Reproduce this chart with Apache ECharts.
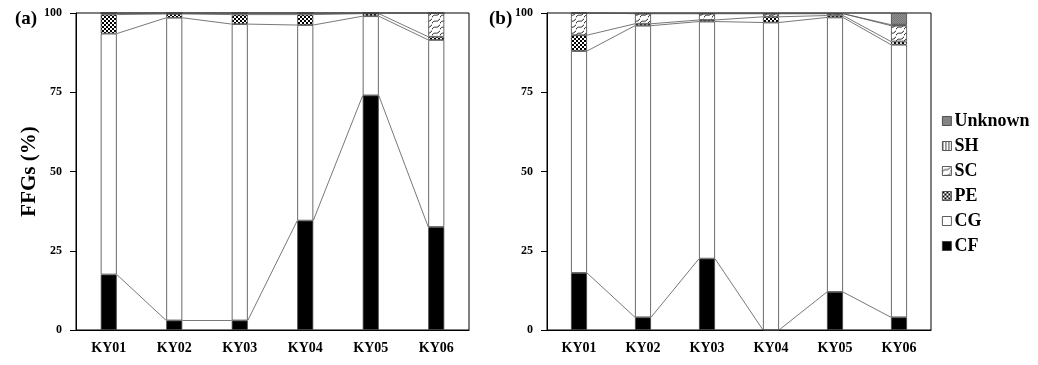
<!DOCTYPE html>
<html>
<head>
<meta charset="utf-8">
<script src="https://cdn.jsdelivr.net/npm/echarts@6/dist/echarts.min.js"></script>
<style>html,body{margin:0;padding:0;background:#fff;}#c{width:1038px;height:365px;}</style>
</head>
<body>
<div id="c"></div>
<script>
// ---- data ----
var categories = ['KY01', 'KY02', 'KY03', 'KY04', 'KY05', 'KY06'];
var seriesNames = ['CF', 'CG', 'PE', 'SC', 'SH', 'Unknown'];
var yTicks = [0, 25, 50, 75, 100];

// panel (a)
var CF_a = [17.5, 3, 3, 34.5, 74, 32.5];
var CG_a = [76, 95.5, 93.5, 61.7, 25, 59];
var PE_a = [6, 1.2, 3, 3.3, 0.8, 1];
var SC_a = [0.5, 0.3, 0.5, 0.5, 0.2, 7.5];
var SH_a = [0, 0, 0, 0, 0, 0];
var UN_a = [0, 0, 0, 0, 0, 0];

// panel (b)
var CF_b = [18, 4, 22.5, 0, 12, 4];
var CG_b = [70, 92, 74.8, 97, 86.6, 86];
var PE_b = [5, 0.6, 0.5, 1.8, 0.6, 1];
var SC_b = [7, 3.2, 2, 1, 0.6, 5];
var SH_b = [0, 0, 0, 0, 0, 0.3];
var UN_b = [0, 0.2, 0.2, 0.2, 0.2, 3.7];

// ---- patterns ----
function mk(w, h, draw) {
  var c = document.createElement('canvas');
  c.width = w; c.height = h;
  var g = c.getContext('2d');
  g.fillStyle = '#fff'; g.fillRect(0, 0, w, h);
  draw(g);
  return { image: c, repeat: 'repeat' };
}
var fills = {
  CF: '#000',
  CG: '#fff',
  PE: mk(4, 4, function (g) { g.fillStyle = '#000'; g.fillRect(0, 0, 2, 2); g.fillRect(2, 2, 2, 2); }),
  SC: mk(8, 6, function (g) { g.strokeStyle = '#222'; g.lineWidth = 1; g.beginPath(); g.moveTo(0, 5.5); g.bezierCurveTo(2, 0.5, 5, 6, 8, 0.5); g.stroke(); }),
  SH: mk(3, 3, function (g) { g.fillStyle = '#444'; g.fillRect(0, 0, 1, 3); }),
  Unknown: mk(2, 2, function (g) { g.fillStyle = '#8f8f8f'; g.fillRect(0, 0, 2, 2); g.fillStyle = '#777'; g.fillRect(0, 0, 1, 1); g.fillRect(1, 1, 1, 1); })
};

var panels = [
  { data: [CF_a, CG_a, PE_a, SC_a, SH_a, UN_a], stack: 'a' },
  { data: [CF_b, CG_b, PE_b, SC_b, SH_b, UN_b], stack: 'b' }
];

var FONT = 'Liberation Serif';
var BARW = 16;

var grids = [
  { left: 76, top: 13, width: 393, height: 317, show: true, borderColor: '#000', borderWidth: 1, backgroundColor: 'transparent' },
  { left: 547, top: 13, width: 384, height: 317, show: true, borderColor: '#000', borderWidth: 1, backgroundColor: 'transparent' }
];

var xAxes = [], yAxes = [], series = [];
panels.forEach(function (p, gi) {
  xAxes.push({
    type: 'category', gridIndex: gi, data: categories,
    axisLine: { lineStyle: { color: '#000', width: 1 } },
    axisTick: { show: false },
    axisLabel: { color: '#000', fontFamily: FONT, fontWeight: 'bold', fontSize: 14, margin: 11 }
  });
  yAxes.push({
    type: 'value', gridIndex: gi, min: 0, max: 100, interval: 25,
    name: gi === 0 ? 'FFGs (%)' : '',
    nameLocation: 'middle', nameGap: 34,
    nameTextStyle: { color: '#000', fontFamily: FONT, fontWeight: 'bold', fontSize: 21 },
    axisLine: { show: true, lineStyle: { color: '#000', width: 1 } },
    axisTick: { show: true, length: 6, lineStyle: { color: '#000' } },
    splitLine: { show: false },
    axisLabel: { color: '#000', fontFamily: FONT, fontWeight: 'bold', fontSize: 12, margin: 14,
      formatter: function (v) { return yTicks.indexOf(v) >= 0 ? String(v) : ''; } }
  });
  p.data.forEach(function (arr, si) {
    series.push({
      name: seriesNames[si], type: 'bar', stack: p.stack,
      xAxisIndex: gi, yAxisIndex: gi, barWidth: BARW,
      data: arr,
      itemStyle: { color: fills[seriesNames[si]], borderColor: '#444', borderWidth: 0.8 },
      emphasis: { disabled: true },
      z: 3
    });
  });
  // series (connector) lines between neighbouring bars
  var cums = categories.map(function (_, ci) {
    var out = [], s = 0;
    p.data.forEach(function (arr) { s += arr[ci]; out.push(s); });
    return out;
  });
  series.push({
    type: 'custom', xAxisIndex: gi, yAxisIndex: gi, silent: true, z: 2,
    data: [0, 1, 2, 3, 4].map(function (i) { return [i, 0]; }),
    encode: { x: 0, y: 1 },
    renderItem: function (params, api) {
      var i = api.value(0);
      var children = [];
      cums[i].forEach(function (lv, k) {
        var a = api.coord([i, lv]);
        var b = api.coord([i + 1, cums[i + 1][k]]);
        children.push({
          type: 'line',
          shape: { x1: a[0] + BARW / 2, y1: a[1], x2: b[0] - BARW / 2, y2: b[1] },
          style: { stroke: '#555', lineWidth: 0.8 }
        });
      });
      return { type: 'group', children: children };
    }
  });
});

var chart = echarts.init(document.getElementById('c'), null, { renderer: 'canvas' });
chart.setOption({
  animation: false,
  backgroundColor: '#fff',
  title: [
    { text: '(a)', left: 10, top: 5, textStyle: { color: '#000', fontFamily: FONT, fontWeight: 'bold', fontSize: 19 } },
    { text: '(b)', left: 484, top: 5, textStyle: { color: '#000', fontFamily: FONT, fontWeight: 'bold', fontSize: 19 } }
  ],
  legend: {
    orient: 'vertical', left: 937, top: 107,
    data: ['Unknown', 'SH', 'SC', 'PE', 'CG', 'CF'],
    icon: 'rect', itemWidth: 9, itemHeight: 9, itemGap: 7,
    selectedMode: false,
    textStyle: { color: '#000', fontFamily: FONT, fontWeight: 'bold', fontSize: 18, lineHeight: 18, padding: [0, 0, 0, -2] },
    itemStyle: { borderColor: '#333', borderWidth: 0.8 }
  },
  grid: grids,
  xAxis: xAxes,
  yAxis: yAxes,
  series: series
});
</script>
</body>
</html>
